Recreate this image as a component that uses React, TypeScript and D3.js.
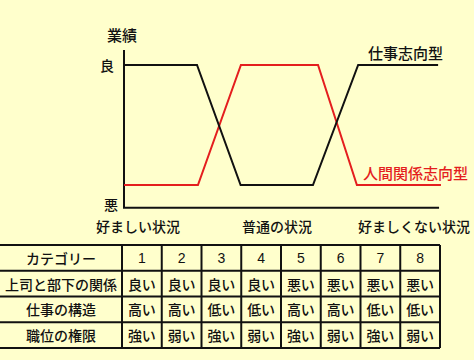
import React from "react";
import * as d3 from "d3";

const W = 474;
const H = 360;

// Chart data (x in abstract 0–100 situation units, y: 1 = 良, 0 = 悪)
const taskX = [0, 23.1, 36.9, 59.8, 74.1, 99.4];
const taskY = [1, 1, 0, 0, 1, 1];
const relX = [0, 23.4, 37.0, 61.4, 73.7, 100.3];
const relY = [0, 0, 1, 1, 0, 0];

const xLabels = ["好ましい状況", "普通の状況", "好ましくない状況"];
const xLabelPos = [4.4, 48.4, 91.8];
const yLabels = ["良", "悪"];
const yLabelVal = [1, -0.16];

// Table data
const categories = ["1", "2", "3", "4", "5", "6", "7", "8"];
const rowLabels = ["上司と部下の関係", "仕事の構造", "職位の権限"];
const relation = ["良い", "良い", "良い", "良い", "悪い", "悪い", "悪い", "悪い"];
const structure = ["高い", "高い", "低い", "低い", "高い", "高い", "低い", "低い"];
const authority = ["強い", "弱い", "強い", "弱い", "強い", "弱い", "強い", "弱い"];

const BG = "#FFFFCC";
const INK = "#111111";
const RED = "#E41E1E";
const FONT = "'Noto Sans CJK JP', 'Noto Sans', sans-serif";
const DIGIT_FONT = "'Liberation Sans', Arial, sans-serif";

export default function App() {
  const x = d3.scaleLinear().domain([0, 100]).range([124, 440]);
  const y = d3.scaleLinear().domain([0, 1]).range([185, 65]);

  const line = d3
    .line<[number, number]>()
    .x((d) => x(d[0]))
    .y((d) => y(d[1]));

  const taskPts = taskX.map((v, i) => [v, taskY[i]] as [number, number]);
  const relPts = relX.map((v, i) => [v, relY[i]] as [number, number]);

  const axisTop = y(1.125);
  const axisBottom = y(-0.19);

  // table layout
  const colX = d3.scaleBand<string>().domain(categories).range([122, 440]);
  const rowNames = ["header", ...rowLabels];
  const rowY = d3.scaleBand<string>().domain(rowNames).range([245, 348]);
  const rowValues = [categories, relation, structure, authority];
  const firstCol = ["カテゴリー", ...rowLabels];

  return (
    <svg
      width={W}
      height={H}
      style={{ position: "absolute", left: 0, top: 0, background: BG }}
      fontFamily={FONT}
    >
      <rect x={0} y={0} width={W} height={H} fill={BG} />

      {/* axes */}
      <line x1={x(0)} x2={x(0)} y1={axisTop} y2={axisBottom} stroke={INK} strokeWidth={2} />
      <line x1={x(0) - 1} x2={x(99.7)} y1={axisBottom} y2={axisBottom} stroke={INK} strokeWidth={2} />

      <text x={122} y={34} fontSize={15} fontWeight={500} fill={INK} textAnchor="middle" dominantBaseline="central">
        業績
      </text>
      {yLabels.map((t, i) => (
        <text
          key={t}
          x={i === 0 ? 107 : 111}
          y={y(yLabelVal[i])}
          fontSize={14}
          fontWeight={500}
          fill={INK}
          textAnchor="middle"
          dominantBaseline="central"
        >
          {t}
        </text>
      ))}
      {xLabels.map((t, i) => (
        <text
          key={t}
          x={x(xLabelPos[i])}
          y={226}
          fontSize={14}
          fontWeight={500}
          fill={INK}
          textAnchor="middle"
          dominantBaseline="central"
        >
          {t}
        </text>
      ))}

      {/* series */}
      <path d={line(relPts) || ""} fill="none" stroke={RED} strokeWidth={2} />
      <path d={line(taskPts) || ""} fill="none" stroke={INK} strokeWidth={2} />

      <text x={368} y={52} fontSize={15} fontWeight={500} fill={INK} dominantBaseline="central">
        仕事志向型
      </text>
      <text x={363} y={172} fontSize={15} fontWeight={500} fill={RED} dominantBaseline="central">
        人間関係志向型
      </text>

      {/* table */}
      <g>
        {rowNames.map((r, ri) => {
          const yy = rowY(r)!;
          const cy = yy + rowY.bandwidth() / 2;
          return (
            <g key={r}>
              <text
                x={61}
                y={cy}
                fontSize={14}
                fontWeight={500}
                fill={INK}
                textAnchor="middle"
                dominantBaseline="central"
              >
                {firstCol[ri]}
              </text>
              {categories.map((c, ci) => (
                <text
                  key={c}
                  x={colX(c)! + colX.bandwidth() / 2}
                  y={cy}
                  fontSize={14}
                  fontFamily={ri === 0 ? DIGIT_FONT : FONT}
                  fontWeight={500}
                  fill={INK}
                  textAnchor="middle"
                  dominantBaseline="central"
                >
                  {rowValues[ri][ci]}
                </text>
              ))}
            </g>
          );
        })}
        {/* horizontal lines */}
        {[...rowNames.map((r) => rowY(r)!), 348].map((yy, i) => (
          <line key={"h" + i} x1={0} x2={440} y1={yy} y2={yy} stroke={INK} strokeWidth={2} />
        ))}
        {/* vertical lines */}
        {[...categories.map((c) => colX(c)!), 440].map((xx, i) => (
          <line key={"v" + i} x1={xx} x2={xx} y1={245} y2={348} stroke={INK} strokeWidth={2} />
        ))}
      </g>
    </svg>
  );
}
